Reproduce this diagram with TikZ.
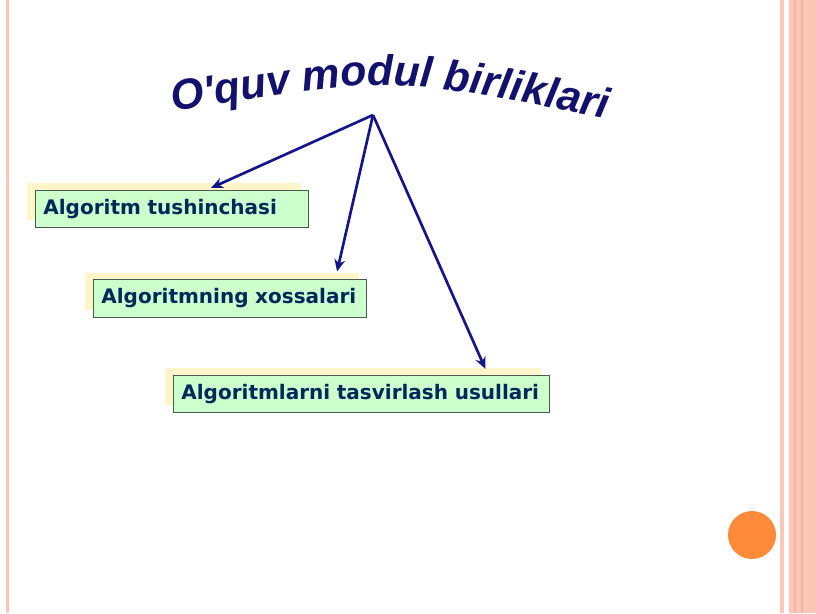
\documentclass[tikz,border=0pt]{standalone}
\usepackage{fontspec}
\setmainfont{DejaVu Sans}
\newfontfamily\titlefont{Liberation Sans}
\usetikzlibrary{arrows.meta}
\usetikzlibrary{calc}
\usetikzlibrary{shadows}
\usetikzlibrary{decorations.text}
\definecolor{framepink}{RGB}{251,200,184}
\definecolor{framedark}{RGB}{240,180,160}
\definecolor{dotorange}{RGB}{255,138,58}
\definecolor{boxgreen}{RGB}{204,255,204}
\definecolor{boxline}{RGB}{70,90,80}
\definecolor{boxtext}{RGB}{0,40,90}
\definecolor{shadowyellow}{RGB}{255,245,200}
\definecolor{titleblue}{RGB}{18,18,110}
\definecolor{arrowblue}{RGB}{20,20,140}
\tikzset{
    unitbox/.style={
        draw=boxline, fill=boxgreen, line width=0.6pt,
        text=boxtext, font=\bfseries\fontsize{15}{18}\selectfont,
        inner xsep=6pt, inner ysep=0pt, minimum height=28pt,
        text height=11pt, text depth=3pt, align=left, anchor=west,
        general shadow={fill=shadowyellow, shadow xshift=-6pt, shadow yshift=5.5pt}
    },
    linkarrow/.style={
        draw=arrowblue, line width=2pt,
        -{Stealth[length=9pt, width=8pt]}
    }
}
\begin{document}
\begin{tikzpicture}[x=0.75pt, y=-0.75pt]

    \fill[white] (0,0) rectangle (816,613);
    \useasboundingbox (0,0) rectangle (816,613);

    % slide frame
    \fill[framepink] (6,0) rectangle (9,613);
    \fill[framepink] (780,0) rectangle (784,613);
    \fill[framepink] (789,0) rectangle (816,613);
    \draw[framedark, line width=0.8pt] (795,0) -- (795,613);
    \draw[framedark, line width=0.8pt] (802,0) -- (802,613);
    \fill[dotorange] (752,535) circle [radius=24];

    % title on an arc
    \path[decorate, decoration={text along path, text align=center, text color=titleblue,
        text={|\titlefont\bfseries\itshape\fontsize{32}{36}\selectfont|O'quv modul birliklari}}]
        (168,113) .. controls (390,75) .. (612,120);

    \coordinate (hub) at (373,115);

    \node[unitbox, text width=193pt] (box1) at (35,209) {Algoritm tushinchasi};
    \node[unitbox, text width=193pt] (box2) at (93,298.5) {Algoritmning xossalari};
    \node[unitbox, text width=270pt] (box3) at (173,394) {Algoritmlarni tasvirlash usullari};

    \draw[linkarrow] (hub) -- ($(box1.north)+(39,-2)$);
    \draw[linkarrow] (hub) -- ($(box2.north)+(107,-8)$);
    \draw[linkarrow] (hub) -- ($(box3.north)+(124,-6)$);

\end{tikzpicture}
\end{document}
